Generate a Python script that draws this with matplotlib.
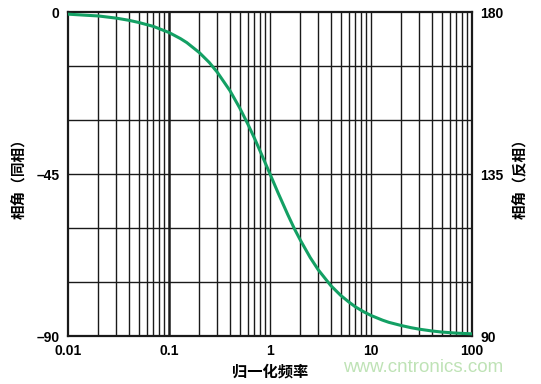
import matplotlib
matplotlib.use("Agg")
import matplotlib.pyplot as plt
import numpy as np

plt.rcParams['font.family'] = ['Liberation Sans', 'Noto Sans CJK SC', 'DejaVu Sans']

freq = [0.01, 0.015, 0.02, 0.03, 0.04, 0.05, 0.07, 0.1, 0.13, 0.15, 0.2, 0.25, 0.3, 0.4, 0.5,
        0.6, 0.7, 0.8, 1.0, 1.2, 1.5, 1.75, 2.0, 2.5, 3.0, 4.0, 5.0, 6.0, 7.0, 8.5, 10.0,
        13.0, 15.0, 20.0, 25.0, 30.0, 40.0, 50.0, 70.0, 100.0]
phase = [-0.6, -0.9, -1.1, -1.7, -2.3, -2.9, -4.0, -5.7, -7.4, -8.5, -11.3, -14.0, -16.7,
         -21.8, -26.6, -31.0, -35.0, -38.7, -45.0, -50.2, -56.3, -60.3, -63.4, -68.2, -71.6,
         -76.0, -78.7, -80.5, -81.9, -83.3, -84.3, -85.6, -86.2, -87.1, -87.7, -88.1,
         -88.6, -88.9, -89.2, -89.4]

xticks = [0.01, 0.1, 1, 10, 100]
xticklabels = ['0.01', '0.1', '1', '10', '100']
yticks_left = [0, -45, -90]
yticklabels_left = ['0', '\u201345', '\u201390']
yticks_right = [180, 135, 90]
yticklabels_right = ['180', '135', '90']

fig = plt.figure(figsize=(5.41, 3.84), dpi=100)
ax = fig.add_axes([0.1257, 0.125, 0.7468, 0.84375])
ax.set_xscale('log')
ax.set_xlim(0.01, 100)
ax.set_ylim(-90, 0)

# grid
for dec in [0.01, 0.1, 1, 10]:
    for k in range(1, 10):
        x = dec * k
        if x <= 0.01 or x >= 100:
            continue
        lw = 1.8 if abs(x - 0.1) < 1e-9 else 1.0
        ax.axvline(x, color='#1a1a1a', lw=lw, zorder=1)
for y in range(-75, 0, 15):
    ax.axhline(y, color='#1a1a1a', lw=1.0, zorder=1)

ax.plot(freq, phase, color='#13a064', lw=2.2, zorder=3, solid_capstyle='round')

for s in ax.spines.values():
    s.set_linewidth(1.6)
    s.set_color('#1a1a1a')

ax.set_xticks(xticks)
ax.set_xticklabels(xticklabels, fontsize=10, fontweight='bold')
ax.xaxis.set_minor_locator(matplotlib.ticker.NullLocator())
ax.set_yticks(yticks_left)
ax.set_yticklabels(yticklabels_left, fontsize=10, fontweight='bold')
ax.tick_params(length=0, pad=6)

ax2 = ax.twinx()
ax2.set_ylim(90, 180)
ax2.set_yticks(yticks_right)
ax2.set_yticklabels(yticklabels_right, fontsize=10, fontweight='bold')
ax2.tick_params(length=0, pad=6)
for s in ax2.spines.values():
    s.set_visible(False)

cjk = ['Noto Sans CJK SC', 'DejaVu Sans']
ax.set_xlabel('归一化频率', family=cjk, fontsize=11, fontweight='bold', labelpad=4)
fig.text(0.036, 0.545, '相角（同相）', family=cjk, fontsize=10.5, fontweight='bold',
         rotation=90, ha='center', va='center')
fig.text(0.962, 0.545, '相角（反相）', family=cjk, fontsize=10.5, fontweight='bold',
         rotation=90, ha='center', va='center')
fig.text(0.93, 0.042, 'www.cntronics.com', fontsize=13.5, color='#bfe3b6',
         ha='right', va='center', family=['Liberation Sans'])

fig.savefig('out.png', dpi=100)
